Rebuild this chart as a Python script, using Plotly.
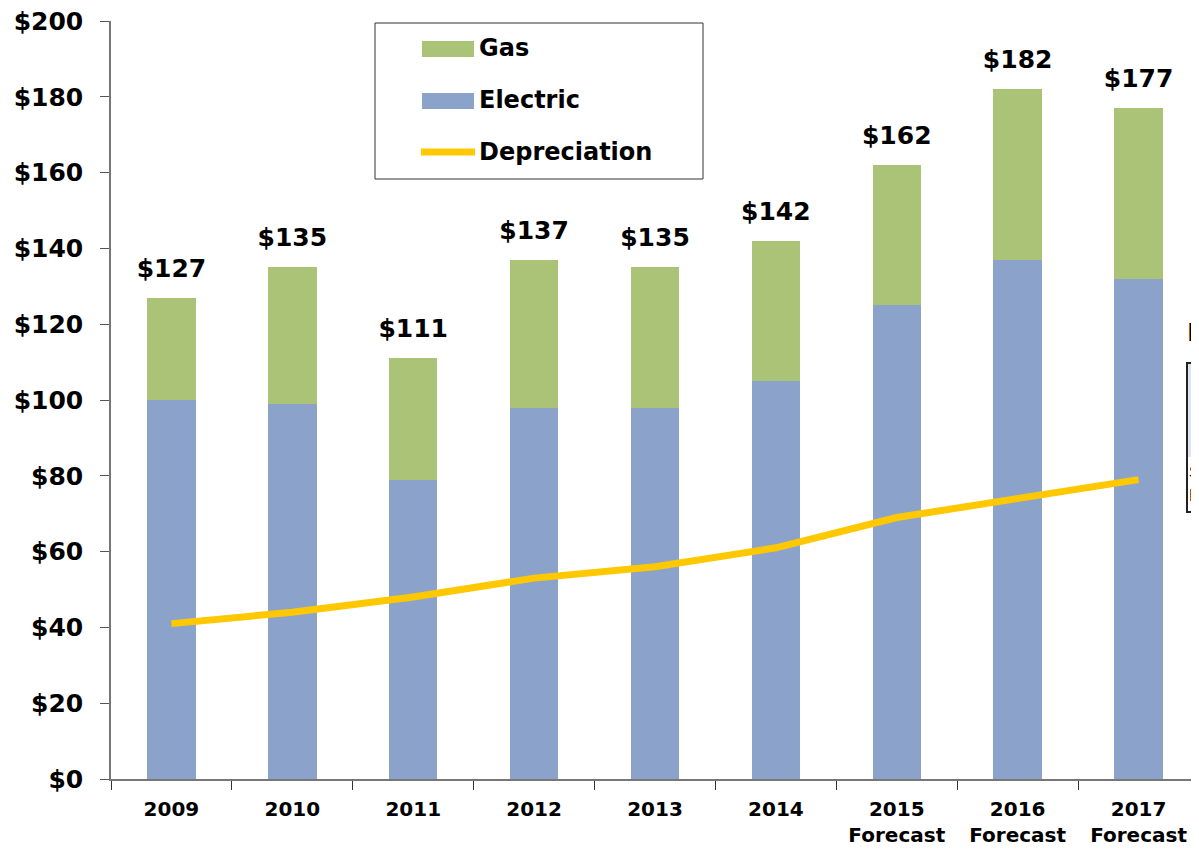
import plotly.graph_objects as go

years = ["2009", "2010", "2011", "2012", "2013", "2014",
         "2015<br>Forecast", "2016<br>Forecast", "2017<br>Forecast"]
electric = [100, 99, 79, 98, 98, 105, 125, 137, 132]
gas = [27, 36, 32, 39, 37, 37, 37, 45, 45]
totals = [127, 135, 111, 137, 135, 142, 162, 182, 177]
depreciation = [41, 44, 48, 53, 56, 61, 69, 74, 79]

BLUE = "#8BA3CB"
GREEN = "#AAC377"
GOLD = "#FFC800"
FONT = "DejaVu Sans, Arial, sans-serif"

OFF = 8  # page body margin
W, H = 1199 - OFF, 853 - OFF
ML, MR, MT = 111 - OFF, 0, 21 - OFF
MB = H - (779 - OFF)
PW, PH = W - ML - MR, H - MT - MB


def px(x):
    return (x - OFF - ML) / PW


def py(y):
    return 1 - (y - OFF - MT) / PH


fig = go.Figure()
fig.add_trace(go.Bar(x=years, y=electric, name="Electric", marker_color=BLUE,
                     marker_line_width=0))
fig.add_trace(go.Bar(x=years, y=gas, name="Gas", marker_color=GREEN,
                     marker_line_width=0))
fig.add_trace(go.Scatter(x=years, y=depreciation, name="Depreciation", mode="lines",
                         line=dict(color=GOLD, width=7)))
# total labels above each stack (invisible marker pushes text up)
fig.add_trace(go.Scatter(x=years, y=totals, mode="markers+text",
                         marker=dict(size=22, opacity=0),
                         text=[f"${v}" for v in totals], textposition="top center",
                         textfont=dict(family=FONT, size=25, color="black", weight="bold"),
                         cliponaxis=False, hoverinfo="skip"))

shapes = [
    dict(type="rect", xref="paper", yref="paper", x0=px(375), x1=px(703), y0=py(179), y1=py(23),
         line=dict(color="#333", width=1), fillcolor="white"),
    dict(type="rect", xref="paper", yref="paper", x0=px(422), x1=px(474), y0=py(57), y1=py(41),
         line=dict(width=0), fillcolor=GREEN),
    dict(type="rect", xref="paper", yref="paper", x0=px(422), x1=px(474), y0=py(109), y1=py(93),
         line=dict(width=0), fillcolor=BLUE),
    dict(type="line", xref="paper", yref="paper", x0=px(421), x1=px(475), y0=py(152), y1=py(152),
         line=dict(color=GOLD, width=7)),
    dict(type="rect", xref="paper", yref="paper", x0=px(1187), x1=px(1205), y0=py(512), y1=py(363),
         line=dict(color="#222", width=2), fillcolor="#DCE4EF"),
    dict(type="rect", xref="paper", yref="paper", x0=px(1188), x1=px(1205), y0=py(511), y1=py(457),
         line=dict(width=0), fillcolor="white"),
]
annotations = []
for label, yy in [("Gas", 48), ("Electric", 100), ("Depreciation", 152)]:
    annotations.append(dict(xref="paper", yref="paper", x=px(477), y=py(yy), text=label,
                            showarrow=False, xanchor="left", yanchor="middle",
                            font=dict(family=FONT, size=24, color="black", weight="bold")))
annotations.append(dict(xref="paper", yref="paper", x=px(1185), y=py(332), text="In",
                        showarrow=False, xanchor="left", yanchor="middle",
                        font=dict(family="Arial, Liberation Sans", size=26, color="black")))
annotations.append(dict(xref="paper", yref="paper", x=px(1187), y=py(472), text="S",
                        showarrow=False, xanchor="left", yanchor="middle",
                        font=dict(family="Arial, Liberation Sans", size=17, color="black")))
annotations.append(dict(xref="paper", yref="paper", x=px(1187), y=py(495), text="H",
                        showarrow=False, xanchor="left", yanchor="middle",
                        font=dict(family="Arial, Liberation Sans", size=17, color="black")))

fig.update_layout(
    width=W, height=H,
    margin=dict(l=ML, r=MR, t=MT, b=MB),
    barmode="stack", bargap=0.6,
    showlegend=False,
    plot_bgcolor="white", paper_bgcolor="white",
    shapes=shapes, annotations=annotations,
    xaxis=dict(type="category", range=[-0.5, 8.5], showline=True, linecolor="#777",
               linewidth=1.5, ticks="outside", tickson="boundaries", ticklen=9,
               tickcolor="#333",
               tickfont=dict(family=FONT, size=20, color="black", weight="bold"),
               ticklabelstandoff=11, showgrid=False, zeroline=False),
    yaxis=dict(range=[0, 200], tickvals=list(range(0, 201, 20)),
               ticktext=[f"${v}" for v in range(0, 201, 20)],
               showline=True, linecolor="#777", ticklabeloverflow="allow",
               linewidth=1.5, ticks="outside", ticklen=9, tickcolor="#555",
               tickfont=dict(family=FONT, size=25, color="black", weight="bold"),
               ticklabelstandoff=12, showgrid=False, zeroline=False),
)

fig.write_html("out.html")
